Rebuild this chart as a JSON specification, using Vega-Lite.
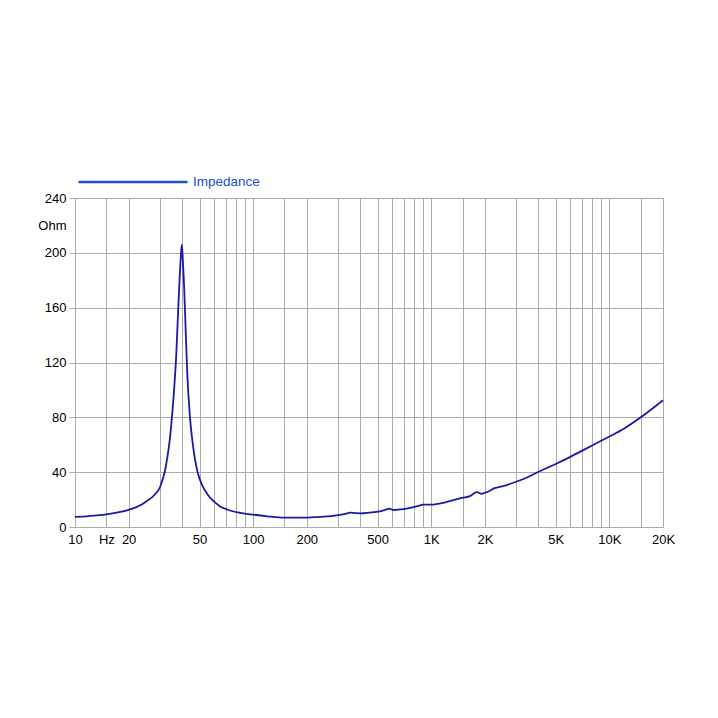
{
  "$schema": "https://vega.github.io/schema/vega-lite/v6.json",
  "autosize": "none",
  "width": 588,
  "height": 329,
  "padding": {"left": 75, "top": 198, "right": 55, "bottom": 191},
  "background": "white",
  "config": {
    "view": {"stroke": null},
    "font": "Liberation Sans",
    "axis": {"labelFont": "Liberation Sans", "labelFontSize": 13, "labelColor": "#000000", "gridColor": "#ababab", "gridWidth": 1, "domainColor": "#ababab", "tickColor": "#ababab"}
  },
  "data": {
    "values": [
      {"f": 10, "z": 7.4, "s": "Impedance"},
      {"f": 12, "z": 8.0, "s": "Impedance"},
      {"f": 15, "z": 9.2, "s": "Impedance"},
      {"f": 18, "z": 11.0, "s": "Impedance"},
      {"f": 20, "z": 12.5, "s": "Impedance"},
      {"f": 23, "z": 15.5, "s": "Impedance"},
      {"f": 25, "z": 18.5, "s": "Impedance"},
      {"f": 28, "z": 23.5, "s": "Impedance"},
      {"f": 30, "z": 29, "s": "Impedance"},
      {"f": 31, "z": 34.5, "s": "Impedance"},
      {"f": 32, "z": 41, "s": "Impedance"},
      {"f": 33, "z": 51, "s": "Impedance"},
      {"f": 34, "z": 63, "s": "Impedance"},
      {"f": 35, "z": 80, "s": "Impedance"},
      {"f": 36, "z": 100, "s": "Impedance"},
      {"f": 37, "z": 125, "s": "Impedance"},
      {"f": 38, "z": 160, "s": "Impedance"},
      {"f": 38.8, "z": 185, "s": "Impedance"},
      {"f": 39.4, "z": 200, "s": "Impedance"},
      {"f": 39.8, "z": 206, "s": "Impedance"},
      {"f": 40.3, "z": 195, "s": "Impedance"},
      {"f": 41, "z": 175, "s": "Impedance"},
      {"f": 41.8, "z": 144, "s": "Impedance"},
      {"f": 42.7, "z": 112, "s": "Impedance"},
      {"f": 44.2, "z": 80, "s": "Impedance"},
      {"f": 46, "z": 59, "s": "Impedance"},
      {"f": 49, "z": 39, "s": "Impedance"},
      {"f": 52, "z": 30, "s": "Impedance"},
      {"f": 55, "z": 24.5, "s": "Impedance"},
      {"f": 60, "z": 18.8, "s": "Impedance"},
      {"f": 65, "z": 15.2, "s": "Impedance"},
      {"f": 72, "z": 12.6, "s": "Impedance"},
      {"f": 85, "z": 10.3, "s": "Impedance"},
      {"f": 100, "z": 9, "s": "Impedance"},
      {"f": 120, "z": 7.8, "s": "Impedance"},
      {"f": 150, "z": 6.8, "s": "Impedance"},
      {"f": 200, "z": 6.9, "s": "Impedance"},
      {"f": 250, "z": 7.5, "s": "Impedance"},
      {"f": 300, "z": 8.7, "s": "Impedance"},
      {"f": 330, "z": 9.6, "s": "Impedance"},
      {"f": 350, "z": 10.5, "s": "Impedance"},
      {"f": 380, "z": 10.1, "s": "Impedance"},
      {"f": 400, "z": 10.0, "s": "Impedance"},
      {"f": 450, "z": 10.5, "s": "Impedance"},
      {"f": 515, "z": 11.4, "s": "Impedance"},
      {"f": 560, "z": 12.8, "s": "Impedance"},
      {"f": 580, "z": 13.4, "s": "Impedance"},
      {"f": 612, "z": 12.4, "s": "Impedance"},
      {"f": 700, "z": 13.0, "s": "Impedance"},
      {"f": 760, "z": 13.9, "s": "Impedance"},
      {"f": 850, "z": 15.5, "s": "Impedance"},
      {"f": 900, "z": 16.3, "s": "Impedance"},
      {"f": 1000, "z": 16.3, "s": "Impedance"},
      {"f": 1200, "z": 18, "s": "Impedance"},
      {"f": 1450, "z": 20.9, "s": "Impedance"},
      {"f": 1650, "z": 22.5, "s": "Impedance"},
      {"f": 1800, "z": 25.5, "s": "Impedance"},
      {"f": 1920, "z": 24.2, "s": "Impedance"},
      {"f": 2000, "z": 25, "s": "Impedance"},
      {"f": 2138, "z": 26.5, "s": "Impedance"},
      {"f": 2230, "z": 28, "s": "Impedance"},
      {"f": 2500, "z": 29.6, "s": "Impedance"},
      {"f": 3000, "z": 33, "s": "Impedance"},
      {"f": 3500, "z": 36.5, "s": "Impedance"},
      {"f": 4000, "z": 40.3, "s": "Impedance"},
      {"f": 5000, "z": 46, "s": "Impedance"},
      {"f": 6000, "z": 51, "s": "Impedance"},
      {"f": 7000, "z": 55.5, "s": "Impedance"},
      {"f": 8000, "z": 59.5, "s": "Impedance"},
      {"f": 10000, "z": 66, "s": "Impedance"},
      {"f": 12000, "z": 71.5, "s": "Impedance"},
      {"f": 15000, "z": 80, "s": "Impedance"},
      {"f": 20000, "z": 92.5, "s": "Impedance"}
    ]
  },
  "encoding": {
    "x": {
      "field": "f", "type": "quantitative",
      "scale": {"type": "log", "domain": [10, 20000], "nice": false},
      "axis": {
        "title": null,
        "values": [10, 15, 20, 30, 40, 50, 60, 70, 80, 90, 100, 150, 200, 300, 400, 500, 600, 700, 800, 900, 1000, 1500, 2000, 3000, 4000, 5000, 6000, 7000, 8000, 9000, 10000, 15000, 20000],
        "labelExpr": "datum.value==15?'Hz':datum.value==1000?'1K':datum.value==2000?'2K':datum.value==5000?'5K':datum.value==10000?'10K':datum.value==20000?'20K':(datum.value==10||datum.value==20||datum.value==50||datum.value==100||datum.value==200||datum.value==500)?''+datum.value:''",
        "ticks": false,
        "labelPadding": 6,
        "labelFlush": false,
        "labelOverlap": false
      }
    },
    "y": {
      "field": "z", "type": "quantitative",
      "scale": {"domain": [0, 240], "nice": false},
      "axis": {
        "title": null,
        "values": [0, 40, 80, 120, 160, 200, 220, 240],
        "labelExpr": "datum.value==220?'Ohm':''+datum.value",
        "tickSize": 6,
        "labelPadding": 3,
        "gridOpacity": {"condition": {"test": "datum.value==220", "value": 0}, "value": 1},
        "tickOpacity": {"condition": {"test": "datum.value==220", "value": 0}, "value": 1},
        "labelOverlap": false,
        "labelFlush": false
      }
    }
  },
  "layer": [
    {
      "mark": {"type": "line", "strokeWidth": 0, "interpolate": "monotone"},
      "encoding": {
        "color": {
          "field": "s", "type": "nominal",
          "scale": {"range": ["#2050d0"]},
          "legend": {
            "title": null,
            "orient": "none",
            "legendX": 2,
            "legendY": -72,
            "symbolType": "stroke",
            "symbolSize": 11900,
            "symbolStrokeWidth": 2.5,
            "symbolOpacity": 1,
            "labelColor": "#2050d0",
            "labelFont": "Liberation Sans",
            "labelFontSize": 13.5,
            "labelOffset": 4
          }
        }
      }
    },
    {
      "mark": {"type": "line", "strokeWidth": 1.8, "interpolate": "monotone", "color": "#1a1aa8"}
    }
  ]
}
